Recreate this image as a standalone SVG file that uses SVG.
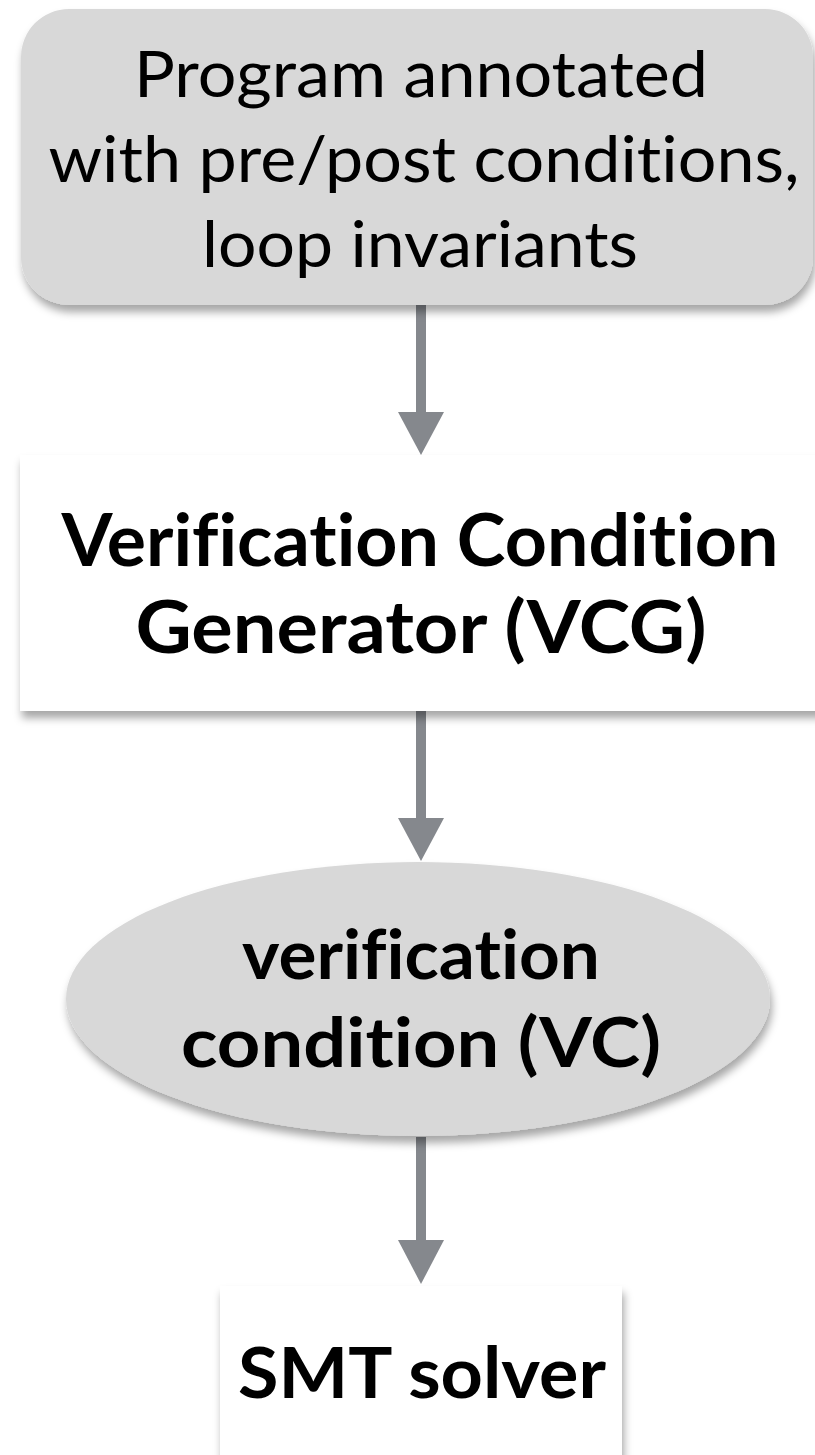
<svg xmlns="http://www.w3.org/2000/svg" width="815" height="1455" viewBox="0 0 815 1455">
  <defs>
    <filter id="shadow" x="-10%" y="-10%" width="125%" height="130%">
      <feDropShadow dx="2" dy="7" stdDeviation="4" flood-color="#000" flood-opacity="0.35"/>
    </filter>
    <style>
      .t { font-family: Lato, "Liberation Sans", sans-serif; fill: #000; text-anchor: middle; font-variant-ligatures: none; font-feature-settings: "liga" 0, "dlig" 0; }
      .reg { font-weight: normal; font-size: 63px; }
      .bold { font-weight: bold; }
      .conn { stroke: #85888d; stroke-width: 10; fill: none; }
      .head { fill: #85888d; }
    </style>
  </defs>
  <rect width="815" height="1455" fill="#ffffff"/>

  <g id="connectors">
    <line class="conn" x1="421" y1="305" x2="421" y2="413"/>
    <path class="head" d="M398,412 L444,412 L421,455 Z"/>
    <line class="conn" x1="421" y1="711" x2="421" y2="819"/>
    <path class="head" d="M398,818 L444,818 L421,861 Z"/>
    <line class="conn" x1="421" y1="1137" x2="421" y2="1241"/>
    <path class="head" d="M398,1240 L444,1240 L421,1284 Z"/>
  </g>

  <g id="node-program">
    <rect x="21" y="9" width="792" height="296" rx="48" ry="48" fill="#d8d8d8" filter="url(#shadow)"/>
    <text class="t reg" x="421" y="97" textLength="574" lengthAdjust="spacingAndGlyphs">Program annotated</text>
    <text class="t reg" x="424" y="182" textLength="751" lengthAdjust="spacingAndGlyphs">with pre/post conditions,</text>
    <text class="t reg" x="420" y="267" textLength="436" lengthAdjust="spacingAndGlyphs">loop invariants</text>
  </g>

  <g id="node-vcg">
    <rect x="20" y="455" width="810" height="256" fill="#ffffff" filter="url(#shadow)"/>
    <text class="t bold" x="420" y="566" font-size="72" textLength="717" lengthAdjust="spacingAndGlyphs">Verification Condition</text>
    <text class="t bold" x="421" y="653" font-size="72" textLength="571" lengthAdjust="spacingAndGlyphs">Generator (VCG)</text>
  </g>

  <g id="node-vc">
    <ellipse cx="418" cy="999" rx="352" ry="137" fill="#d8d8d8" filter="url(#shadow)"/>
    <text class="t bold" x="421" y="979" font-size="68" textLength="358" lengthAdjust="spacingAndGlyphs">verification</text>
    <text class="t bold" x="421" y="1067" font-size="68" textLength="480" lengthAdjust="spacingAndGlyphs">condition (VC)</text>
  </g>

  <g id="node-smt">
    <rect x="220" y="1286" width="402" height="200" fill="#ffffff" filter="url(#shadow)"/>
    <text class="t bold" x="422" y="1398" font-size="70" textLength="368" lengthAdjust="spacingAndGlyphs">SMT solver</text>
  </g>
</svg>
